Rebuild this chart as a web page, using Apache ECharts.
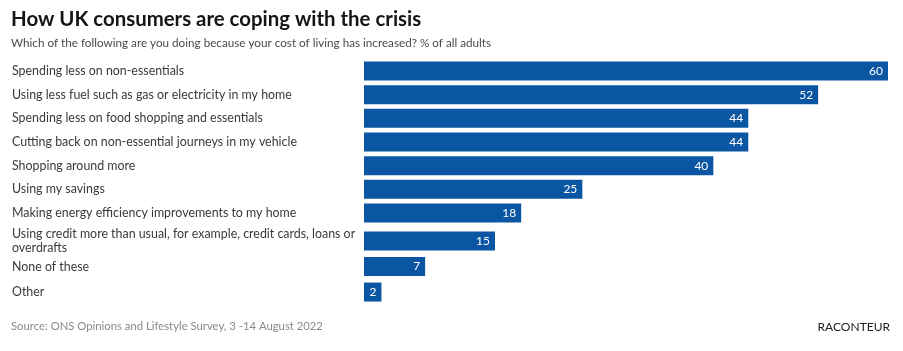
<!DOCTYPE html>
<html><head><meta charset="utf-8">
<script src="https://cdn.jsdelivr.net/npm/echarts@6/dist/echarts.min.js"></script>
<style>html,body{margin:0;padding:0;background:#fff}#c{width:903px;height:351px}</style>
</head><body><div id="c"></div>
<script>
const categories = [
  "Spending less on non-essentials",
  "Using less fuel such as gas or electricity in my home",
  "Spending less on food shopping and essentials",
  "Cutting back on non-essential journeys in my vehicle",
  "Shopping around more",
  "Using my savings",
  "Making energy efficiency improvements to my home",
  "Using credit more than usual, for example, credit cards, loans or\noverdrafts",
  "None of these",
  "Other"
];
const values = [60, 52, 44, 44, 40, 25, 18, 15, 7, 2];
const splitAt = 7;

const FONT = 'Lato';
const chart = echarts.init(document.getElementById('c'));
function yAxis(idx, cats){
  return {type:'category', gridIndex:idx, data:cats, inverse:true,
    axisLine:{show:false}, axisTick:{show:false},
    axisLabel:{align:'left', margin:352, color:'#3a3a3a', fontSize:12.4, fontFamily:FONT, lineHeight:14}};
}
function xAxis(idx){
  return {type:'value', gridIndex:idx, min:0, max:60, show:false};
}
function series(idx, vals){
  return {type:'bar', xAxisIndex:idx, yAxisIndex:idx, data:vals, barWidth:19,
    itemStyle:{color:'#0b56a3'},
    label:{show:true, position:'insideRight', distance:5, color:'#fff', fontSize:12, fontFamily:FONT}};
}
chart.setOption({
  animation:false,
  title:[
    {text:'How UK consumers are coping with the crisis', left:11, top:9, padding:0,
     textStyle:{fontSize:20.4, fontWeight:'bold', color:'#151515', fontFamily:FONT}},
    {text:'Which of the following are you doing because your cost of living has increased? % of all adults', left:11, top:37, padding:0,
     textStyle:{fontSize:11.7, fontWeight:'normal', color:'#4a4a4a', fontFamily:FONT}},
    {text:'Source: ONS Opinions and Lifestyle Survey, 3 -14 August 2022', left:11, top:321, padding:0,
     textStyle:{fontSize:11.3, fontWeight:'normal', color:'#8a8a8a', fontFamily:FONT}},
    {text:'RACONTEUR', right:13, top:321, padding:0,
     textStyle:{fontSize:12, fontWeight:'normal', color:'#222', fontFamily:FONT}}
  ],
  grid:[
    {left:364, right:15, top:59.2, height:165.6},
    {left:364, right:15, top:228.3, height:76.5}
  ],
  xAxis:[xAxis(0), xAxis(1)],
  yAxis:[yAxis(0, categories.slice(0, splitAt)), yAxis(1, categories.slice(splitAt))],
  series:[series(0, values.slice(0, splitAt)), series(1, values.slice(splitAt))]
});
</script></body></html>
